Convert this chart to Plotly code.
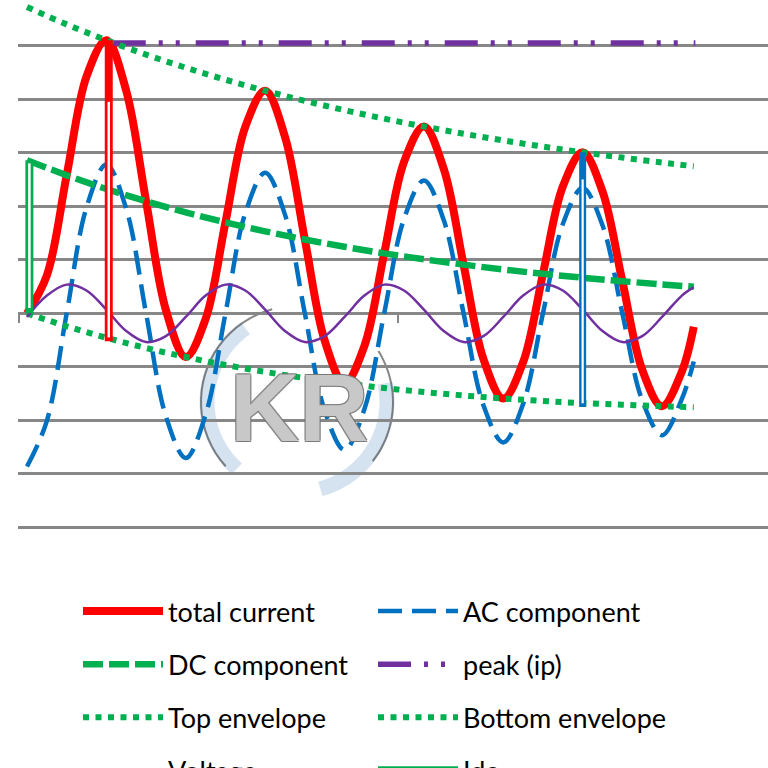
import math
import plotly.graph_objects as go

# ---------------- data ----------------
t_wave = [0, 2.5, 5, 7.5, 10, 12.5, 15, 17.5, 20, 22.5, 25, 27.5, 30, 32.5, 35, 37.5,
          40, 42.5, 45, 47.5, 50, 52.5, 55, 57.5, 60, 62.5, 65, 67.5, 70, 72.5, 75,
          77.5, 80, 82.5, 84]
total_current = [0.000, 0.707, 2.577, 4.425, 5.101, 4.156, 2.092, 0.062, -0.816, -0.106,
                 1.699, 3.483, 4.156, 3.296, 1.379, -0.508, -1.308, -0.611, 1.120, 2.829,
                 3.488, 2.699, 0.909, -0.853, -1.591, -0.913, 0.738, 2.368, 3.007, 2.276,
                 0.600, -1.052, -1.736, -1.085, -0.250]
ac_component = [-2.860, -2.008, 0.000, 1.979, 2.779, 1.952, 0.000, -1.924, -2.701, -1.896,
                0.000, 1.870, 2.625, 1.843, 0.000, -1.817, -2.551, -1.791, 0.000, 1.766,
                2.479, 1.741, 0.000, -1.716, -2.410, -1.691, 0.000, 1.667, 2.342, 1.644,
                0.000, -1.621, -2.276, -1.598, -0.900]
voltage = [-0.068, 0.331, 0.536, 0.427, 0.068, -0.331, -0.536, -0.427, -0.068, 0.331,
           0.536, 0.427, 0.068, -0.331, -0.536, -0.427, -0.068, 0.331, 0.536, 0.427,
           0.068, -0.331, -0.536, -0.427, -0.068, 0.331, 0.536, 0.427, 0.068, -0.331,
           -0.536, -0.427, -0.068, 0.331, 0.489]

t_env = [0, 5, 10, 15, 20, 25, 30, 35, 40, 45, 50, 55, 60, 65, 70, 75, 80, 84]
dc_component = [2.860, 2.577, 2.322, 2.092, 1.885, 1.699, 1.531, 1.379, 1.243, 1.120,
                1.009, 0.909, 0.819, 0.738, 0.665, 0.600, 0.540, 0.497]
top_envelope = [5.720, 5.396, 5.101, 4.832, 4.586, 4.362, 4.156, 3.967, 3.794, 3.635,
                3.488, 3.353, 3.229, 3.113, 3.007, 2.908, 2.816, 2.747]
bottom_envelope = [0.000, -0.242, -0.457, -0.648, -0.816, -0.964, -1.094, -1.209, -1.308,
                   -1.395, -1.470, -1.535, -1.591, -1.637, -1.677, -1.708, -1.736, -1.753]

peak_t = [10.8, 84.2]
peak_ip = [5.05, 5.05]
idc_t = [0.3, 0.3]
idc = [0.0, 2.86]
idc_inner = [0.10, 2.80]
ip_marker_t = [10.3, 10.3]
ip_marker = [5.10, -0.52]
ip_marker_inner = [3.95, -0.45]
ac_marker_t = [70, 70]
ac_marker = [3.01, -1.75]
ac_marker_inner = [2.50, -1.68]

RED = "#FF0000"
BLUE = "#0070C0"
GREEN = "#00B050"
PURPLE = "#7030A0"
GRID = "#878787"

fig = go.Figure()

def add(x, y, name, color, width, dash="solid", legend="legend", shape="spline",
        show=True, group=None):
    fig.add_trace(go.Scatter(
        x=x, y=y, name=name, mode="lines",
        line=dict(color=color, width=width, dash=dash, shape=shape),
        legend=legend, showlegend=show, legendgroup=group or name,
        hoverinfo="skip"))

add(t_wave, total_current, "total current", RED, 8, legend="legend")
add(t_wave, ac_component, "AC component", BLUE, 4.5, dash="24px,10px", legend="legend2")
add(t_env, dc_component, "DC component", GREEN, 6.5, dash="20px,6px", legend="legend")
add(peak_t, peak_ip, "peak (ip)", PURPLE, 5.5, dash="33px,13px,4px,13px,4px,16px",
    legend="legend2", shape="linear")
add(t_env, top_envelope, "Top envelope", GREEN, 6, dash="6px,6.5px", legend="legend")
add(t_env, bottom_envelope, "Bottom envelope", GREEN, 6, dash="6px,6.5px", legend="legend2")
add(t_wave, voltage, "Voltage", PURPLE, 2.5, legend="legend")
add(idc_t, idc, "Idc", GREEN, 8, legend="legend2", shape="linear")
add(idc_t, idc_inner, "Idc inner", "white", 2.5, shape="linear", show=False)
add(ip_marker_t, ip_marker, "ip marker", RED, 8, shape="linear", show=False)
add(ip_marker_t, ip_marker_inner, "ip inner", "white", 2.5, shape="linear", show=False)
add(ac_marker_t, ac_marker, "ac marker", BLUE, 7, shape="linear", show=False)
add(ac_marker_t, ac_marker_inner, "ac inner", "white", 2.2, shape="linear", show=False)

# ---------------- watermark (decoration) ----------------
def arc_path(cx, cy, r, a0, a1):
    pts = []
    n = 24
    for i in range(n + 1):
        a = math.radians(a0 + (a1 - a0) * i / n)
        px = cx + r * math.cos(a)
        py = cy - r * math.sin(a)
        pts.append(((px - 18) / 750, (540 - py) / 540))
    return "M" + " L".join(f"{x:.4f},{y:.4f}" for x, y in pts)

shapes = []
for a0, a1 in [(125, 228), (12, -75)]:
    shapes.append(dict(type="path", xref="paper", yref="paper", layer="between",
                       path=arc_path(297, 402, 90, a0, a1),
                       line=dict(color="rgba(185,208,232,0.6)", width=15)))
for a0, a1 in [(105, 222), (32, -38)]:
    shapes.append(dict(type="path", xref="paper", yref="paper", layer="between",
                       path=arc_path(297, 402, 96, a0, a1),
                       line=dict(color="rgba(70,70,70,0.65)", width=2)))

LEGEND_FONT = dict(family="Lato", size=27, color="black")

fig.update_layout(
    width=768, height=768,
    margin=dict(l=18, r=0, t=0, b=228, autoexpand=False),
    paper_bgcolor="white", plot_bgcolor="white",
    shapes=shapes,
    annotations=[dict(x=(299 - 18) / 750, y=(540 - 407) / 540, xref="paper", yref="paper",
                      xanchor="center", yanchor="middle",
                      text="KR", showarrow=False,
                      font=dict(family="Liberation Sans Narrow, Liberation Sans", size=96,
                                weight="bold", color="rgba(214,214,214,0.85)",
                                shadow="1px 1px 0 #777, -1px -1px 0 #777, 1px -1px 0 #777, -1px 1px 0 #777"))],
    xaxis=dict(range=[-1.134, 93.35], showgrid=False, zeroline=False, showline=False,
               ticks="outside", tickvals=[-1.0, 46.74], ticklen=9, tickwidth=2,
               tickcolor=GRID, showticklabels=False, anchor="free",
               position=(540 - 313.3) / 540),
    yaxis=dict(range=[-4.233, 5.851], dtick=1, tick0=0, showgrid=True, gridcolor=GRID,
               gridwidth=2.5, zeroline=False, showline=False, showticklabels=False,
               ticks=""),
    legend=dict(x=(78 - 18) / 750, y=(540 - 587) / 540, xanchor="left", yanchor="top",
                orientation="v", itemwidth=80, tracegroupgap=15,
                font=LEGEND_FONT, bgcolor="rgba(0,0,0,0)"),
    legend2=dict(x=(373 - 18) / 750, y=(540 - 587) / 540, xanchor="left", yanchor="top",
                 orientation="v", itemwidth=80, tracegroupgap=15,
                 font=LEGEND_FONT, bgcolor="rgba(0,0,0,0)"),
)

fig.write_html("out.html")
